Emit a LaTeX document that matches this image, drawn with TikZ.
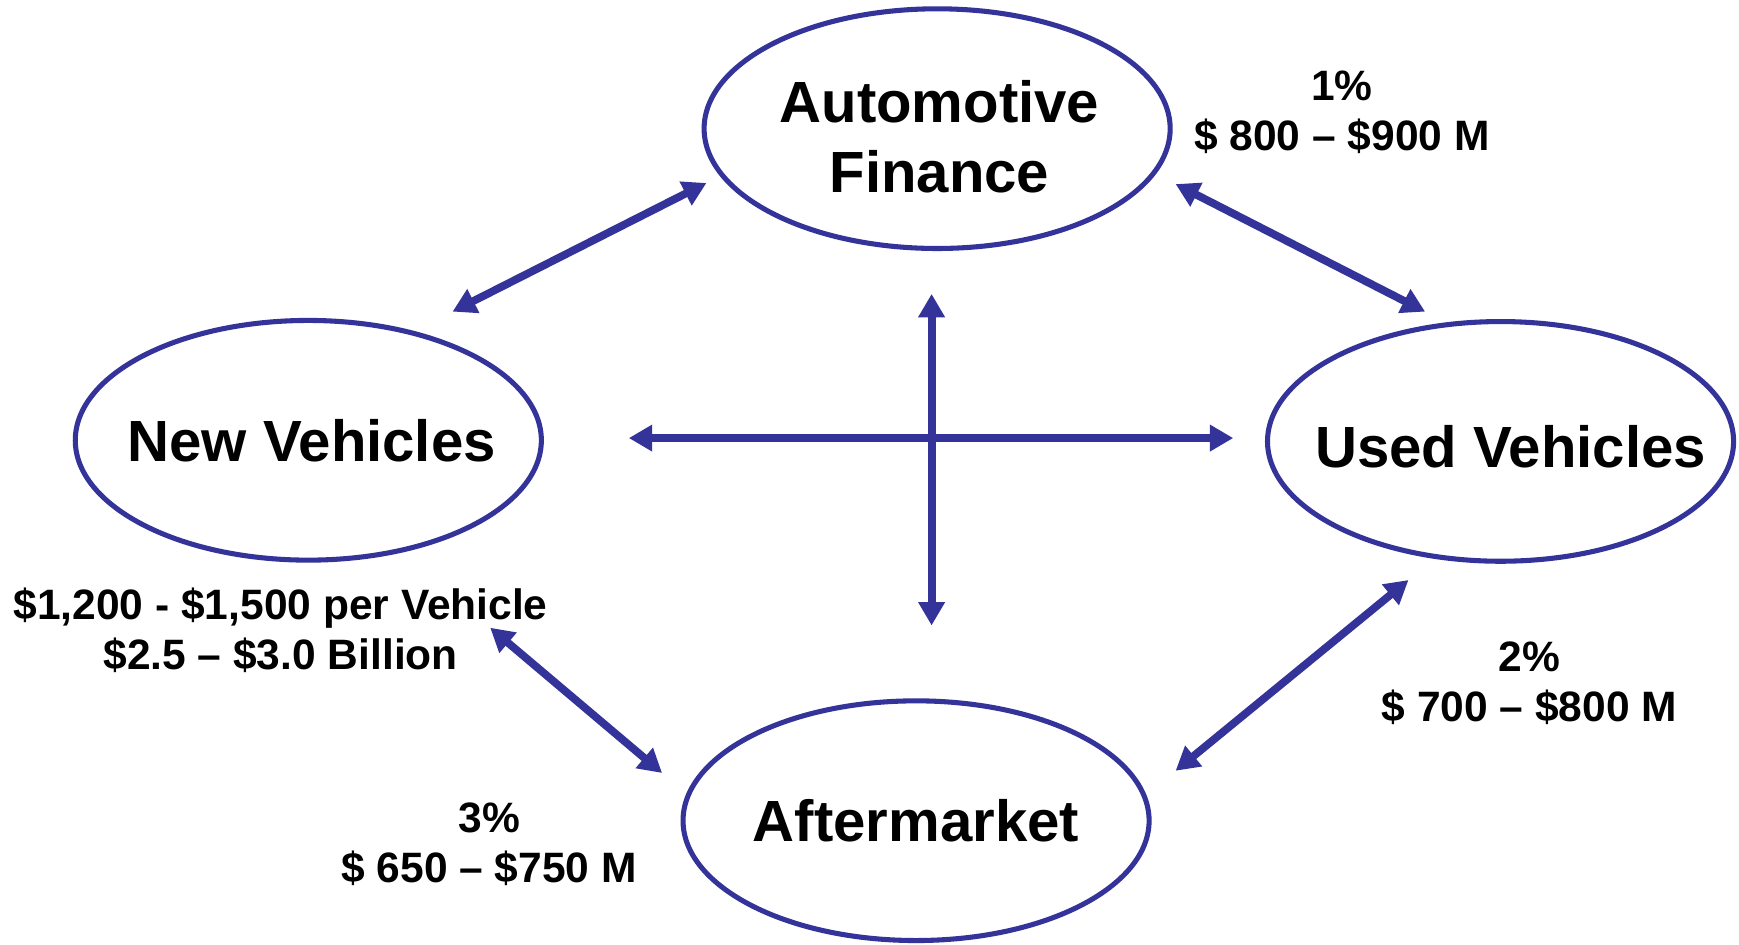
\documentclass[tikz,border=0pt]{standalone}
\usepackage{fontspec}
\setmainfont{Liberation Sans}
\usetikzlibrary{shapes.geometric,arrows.meta}
\definecolor{navy}{RGB}{51,51,153}
\begin{document}
\begin{tikzpicture}[x=0.01cm,y=-0.01cm,
  oval/.style={ellipse,draw=navy,line width=1.3pt,minimum width=4.2cm,minimum height=2.16cm,inner sep=0pt},
  title/.style={font=\fontsize{14.9}{17.9}\selectfont\bfseries,align=center,inner sep=0pt},
  val/.style={font=\fontsize{10.9}{12.8}\selectfont\bfseries,align=center,inner sep=0pt},
  link/.style={draw=navy,line width=2pt,{Triangle[length=6pt,width=6.5pt]}-{Triangle[length=6pt,width=6.5pt]}}]
\useasboundingbox (0,0) rectangle (1568,852);
\fill[white] (0,0) rectangle (1568,852);
% ellipses
\node[oval] (af) at (845,116) {};
\node[oval] (nv) at (278,397) {};
\node[oval] (uv) at (1353,398) {};
\node[oval] (am) at (826,740) {};
% titles
\node[title] (taf) at (847,123) {Automotive\\Finance};
\node[title] (tnv) at (281,397) {New Vehicles};
\node[title] (tuv) at (1362,403) {Used Vehicles};
\node[title] (tam) at (826,740) {Aftermarket};
% value labels
\node[val] (l1) at (1210,101) {1\%\\\$ 800 -- \$900 M};
\node[val] (l2) at (253,568) {\$1,200 - \$1,500 per Vehicle\\\$2.5 -- \$3.0 Billion};
\node[val] (l3) at (1379,616) {2\%\\\$ 700 -- \$800 M};
\node[val] (l4) at (441,761) {3\%\\\$ 650 -- \$750 M};
% arrow end points
\coordinate (a1) at (408,281);
\coordinate (a2) at (637,165);
\coordinate (b1) at (1060,166);
\coordinate (b2) at (1285,281);
\coordinate (c1) at (442,566);
\coordinate (c2) at (597,697);
\coordinate (d1) at (1270,523);
\coordinate (d2) at (1060,695);
\coordinate (h1) at (567,395);
\coordinate (h2) at (1112,395);
\coordinate (v1) at (840,265);
\coordinate (v2) at (840,564);
\draw[link] (a1) -- (a2);
\draw[link] (b1) -- (b2);
\draw[link] (c1) -- (c2);
\draw[link] (d1) -- (d2);
\draw[link] (h1) -- (h2);
\draw[link] (v1) -- (v2);
\end{tikzpicture}
\end{document}
